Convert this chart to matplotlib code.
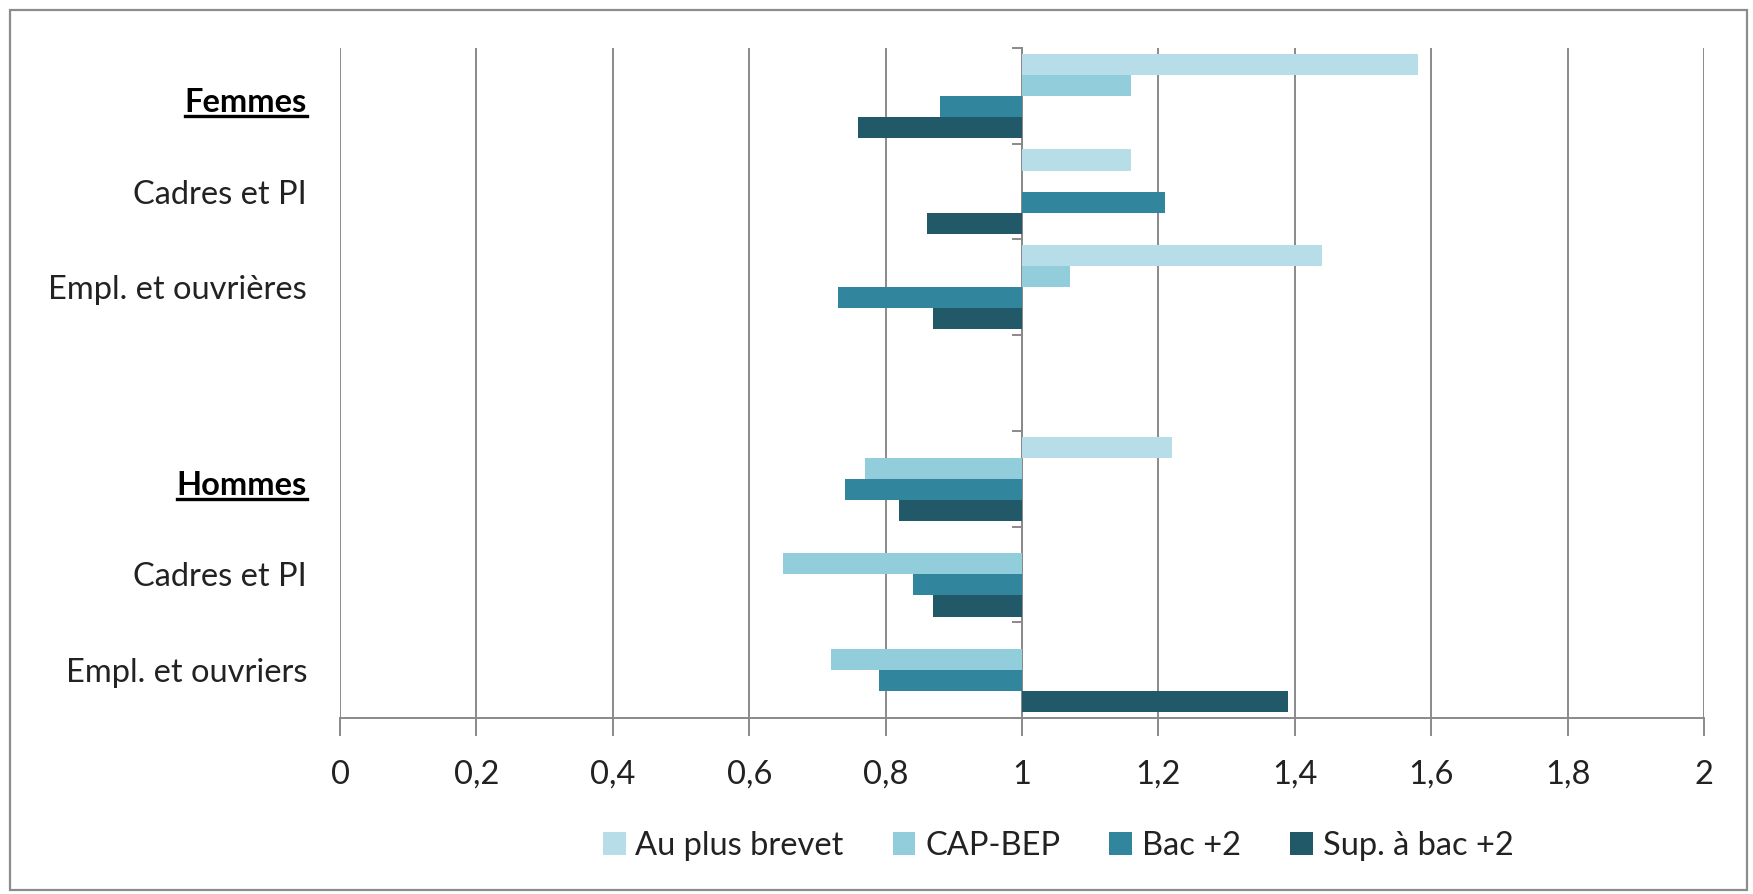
import matplotlib
matplotlib.use("Agg")
import matplotlib.pyplot as plt
import matplotlib.transforms as mtransforms
from matplotlib.lines import Line2D
from matplotlib.patches import Rectangle
import numpy as np

plt.rcParams['font.family'] = ['Lato', 'DejaVu Sans']

# rows from top to bottom; the empty row separates the two groups
categories = ["Femmes", "Cadres et PI", "Empl. et ouvrières", "",
              "Hommes", "Cadres et PI", "Empl. et ouvriers"]
headers = ["Femmes", "Hommes"]

series = ["Au plus brevet", "CAP-BEP", "Bac +2", "Sup. à bac +2"]
au_plus_brevet = [1.58, 1.16, 1.44, None, 1.22, None, None]
cap_bep = [1.16, None, 1.07, None, 0.77, 0.65, 0.72]
bac_2 = [0.88, 1.21, 0.73, None, 0.74, 0.84, 0.79]
sup_bac_2 = [0.76, 0.86, 0.87, None, 0.82, 0.87, 1.39]

colors = ["#b7dee8", "#92cddc", "#31859c", "#215968"]
grid_col = "#8a8a8a"
text_col = "#222222"
fs = 23.5

W, H = 1753, 894
fig = plt.figure(figsize=(W / 100, H / 100), dpi=100)
ax = fig.add_axes([340 / W, 1 - 718 / H, (1704 - 340) / W, (718 - 48) / H])

bar_h = 0.22
ypos = np.arange(len(categories))
for i, (name, vals, c) in enumerate(zip(series, [au_plus_brevet, cap_bep, bac_2, sup_bac_2], colors)):
    y = ypos + (i - 1.5) * bar_h
    v = np.array([np.nan if x is None else x for x in vals], dtype=float)
    ok = ~np.isnan(v)
    # bars grow from the reference value 1
    ax.barh(y[ok], v[ok] - 1, left=1, height=bar_h, color=c, label=name, zorder=3)

ax.set_xlim(0, 2)
ax.set_ylim(len(categories) - 0.5, -0.5)
ax.set_xticks(np.arange(0, 2.01, 0.2))
ax.set_xticklabels([f"{t:.1f}".rstrip("0").rstrip(".").replace(".", ",") for t in np.arange(0, 2.01, 0.2)])
ax.grid(axis="x", color=grid_col, lw=1.4, zorder=0)
ax.tick_params(axis="x", length=13, width=1.4, color=grid_col, pad=17,
               labelsize=fs, labelcolor=text_col)

for s in ["top", "right"]:
    ax.spines[s].set_visible(False)
ax.spines["bottom"].set_color(grid_col)
ax.spines["bottom"].set_linewidth(1.4)
ax.spines["left"].set_position(("data", 1))
ax.spines["left"].set_color(grid_col)
ax.spines["left"].set_linewidth(1.4)
ax.set_yticks(np.arange(-0.5, len(categories)), labels=[])
ax.tick_params(axis="y", length=7, width=1.4, color=grid_col)

# row labels to the left of the plot area
trans = mtransforms.blended_transform_factory(ax.transAxes, ax.transData)
lab_shift = mtransforms.ScaledTranslation(0, -3 / 100, fig.dpi_scale_trans)
head_shift = mtransforms.ScaledTranslation(0, -7 / 100, fig.dpi_scale_trans)
head_texts = []
for y, lab in zip(ypos, categories):
    if lab in headers:
        t = ax.text(-33 / 1364, y, lab, transform=trans + head_shift, ha="right", va="center",
                    fontsize=fs, fontweight="bold", color="black")
        head_texts.append(t)
    else:
        ax.text(-33 / 1364, y, lab, transform=trans + lab_shift, ha="right", va="center",
                fontsize=fs, color=text_col)

fig.legend(loc="center", bbox_to_anchor=(1058 / W, 1 - 846 / H), ncol=4, frameon=False,
           fontsize=fs, handlelength=0.7, handleheight=0.7, handletextpad=0.3,
           columnspacing=1.5, labelcolor=text_col)

# underline the group headers
fig.canvas.draw()
r = fig.canvas.get_renderer()
for t in head_texts:
    bb = t.get_window_extent(r)
    yl = bb.y0 + 1
    fig.add_artist(Line2D([bb.x0 / W, bb.x1 / W], [yl / H, yl / H], color="black", lw=2.4))

fig.add_artist(Rectangle((10 / W, 4 / H), (1747 - 10) / W, (H - 14) / H, fill=False,
                         edgecolor="#8c8c8c", lw=1.6))

fig.savefig("out.png", dpi=100)
